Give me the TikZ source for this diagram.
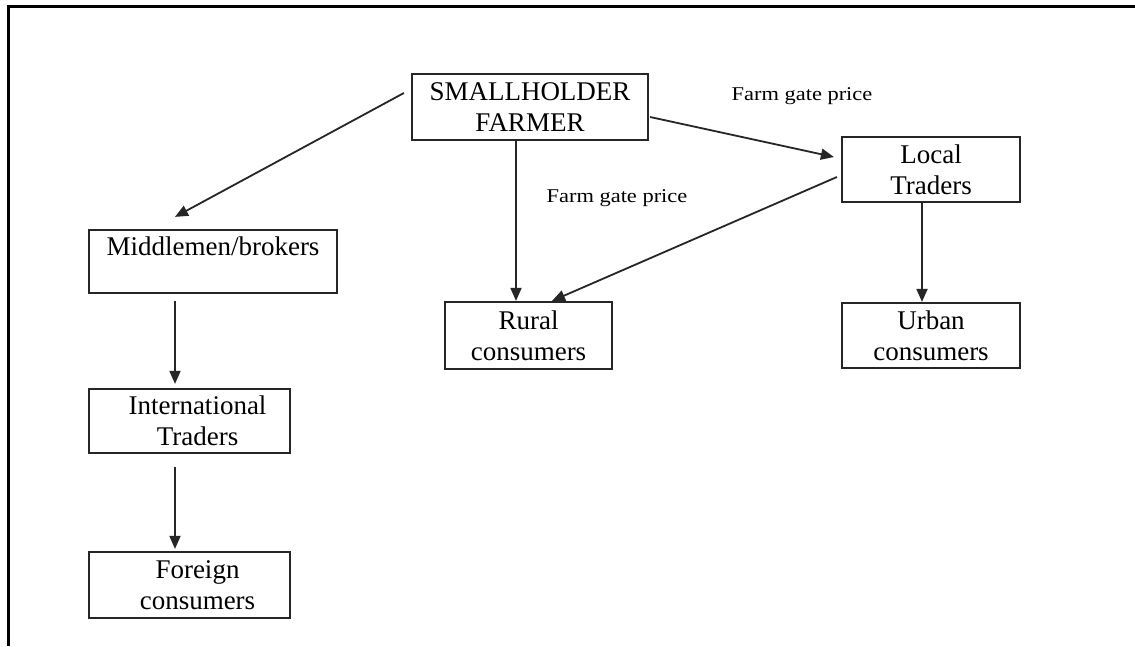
\documentclass[tikz,border=0pt]{standalone}
\usepackage{fontspec}
\setmainfont{Liberation Serif}
\usetikzlibrary{arrows.meta,calc}
\begin{document}
\begin{tikzpicture}[x=1pt,y=-1pt,
  flowbox/.style={draw=black!85, line width=2.2pt, inner sep=0pt, align=center,
    font=\fontsize{27}{31}\selectfont},
  arr/.style={-{Triangle[length=13pt,width=11pt]}, line width=1.8pt, draw=black!85},
  pricelabel/.style={font=\fontsize{19.5}{22}\selectfont, xscale=1.15, inner sep=0pt},
  frameline/.style={line width=3pt, black}
]
\useasboundingbox[fill=white] (0,0) rectangle (1135,646);
\draw[frameline] (8.2,646) -- (8.2,6.7) -- (1135,6.7);

% boxes
\node[flowbox, minimum width=236pt, minimum height=66pt] (farmer) at (530,107) {SMALLHOLDER\\FARMER};
\node[flowbox, minimum width=178pt, minimum height=65pt] (local) at (931,169.5) {Local\\Traders};
\node[flowbox, minimum width=178pt, minimum height=65pt] (urban) at (931,335.5) {Urban\\consumers};
\node[flowbox, minimum width=167pt, minimum height=67pt] (rural) at (528.5,335.5) {Rural\\consumers};
\node[flowbox, minimum width=248pt, minimum height=63pt, text height=18pt, text depth=31pt] (mid) at (213,261.5) {Middlemen/brokers};
\node[flowbox, minimum width=201pt, minimum height=64pt] (intl) at (189.5,421) {\hspace*{16pt}International\\\hspace*{16pt}Traders};
\node[flowbox, minimum width=201pt, minimum height=66pt] (foreign) at (189.5,585) {\hspace*{16pt}Foreign\\\hspace*{16pt}consumers};

% labels
\node[pricelabel] (lbl1) at (802,96) {Farm gate price};
\node[pricelabel] (lbl2) at (617,198) {Farm gate price};

% helper coordinates
\coordinate (fx) at (516,0);
\coordinate (lx) at (922,0);
\coordinate (mx) at (175,0);

% connectors
\draw[arr] ([shift={(-7,-14)}]farmer.west) -- ([shift={(-38,-12)}]mid.north);
\draw[arr] (farmer.south -| fx) -- (rural.north -| fx);
\draw[arr] ([shift={(1,10)}]farmer.east) -- ([shift={(-7,-12.5)}]local.west);
\draw[arr] ([shift={(-4,7.5)}]local.west) -- ([shift={(23.5,0)}]rural.north);
\draw[arr] (local.south -| lx) -- (urban.north -| lx);
\draw[arr] ([shift={(0,7)}]mid.south -| mx) -- ([shift={(0,-4)}]intl.north -| mx);
\draw[arr] ([shift={(0,13)}]intl.south -| mx) -- ([shift={(0,-2)}]foreign.north -| mx);
\end{tikzpicture}
\end{document}
